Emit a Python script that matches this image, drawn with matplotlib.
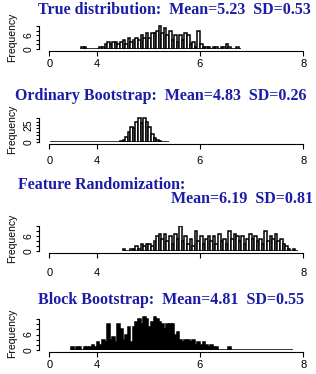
import numpy as np
import matplotlib

matplotlib.use("Agg")
import matplotlib.pyplot as plt

W, H = 316, 374
BIN_W = 0.05

# histogram counts (bins of width 0.05 starting at *_start)
true_start = 3.70
true_counts = [1, 1, 0, 0, 0, 0, 0, 1, 1, 2, 3, 2, 3, 3, 2, 3, 4, 2, 5, 3,
               4, 5, 4, 6, 5, 7, 5, 7, 7, 8, 10, 7, 9, 6, 8, 4, 6, 3, 6, 4,
               7, 6, 2, 3, 1, 8, 2, 1, 1, 1, 0, 1, 1, 0, 1, 1, 2, 1, 0, 0,
               1, 0]

ord_start = 3.10
ord_counts = [0] * 27 + [1, 3, 8, 15, 22, 20, 30, 36, 28, 35, 30, 22, 12, 6,
                         3, 1, 0, 0, 0]

feat_start = 4.50
feat_counts = [1, 0, 0, 1, 1, 2, 1, 3, 2, 3, 3, 2, 4, 6, 7, 5, 7, 4, 6, 3,
               7, 5, 10, 4, 6, 3, 5, 2, 8, 4, 6, 3, 5, 6, 4, 6, 3, 7, 4, 5,
               3, 8, 5, 7, 6, 4, 6, 3, 5, 7, 5, 6, 4, 5, 3, 8, 4, 6, 5, 7,
               4, 5, 3, 2, 1, 0, 1, 0]

block_start = 3.50
block_counts = [1, 0, 1, 1, 0, 1, 1, 1, 2, 1, 3, 2, 4, 3, 10, 4, 5, 3, 10, 8,
                4, 6, 9, 3, 9, 11, 12, 10, 13, 12, 9, 11, 13, 12, 11, 10, 8, 10, 10, 10,
                6, 7, 4, 3, 4, 4, 3, 4, 2, 3, 2, 3, 2, 1, 2, 1, 1, 0, 0, 0,
                0, 1] + [0] * 24

xticks = [3.08, 4, 6, 8]
xlabels = ["0", "4", "6", "8"]

BLUE = "#1c1ca6"

fig = plt.figure(figsize=(W / 100, H / 100), dpi=100)


def px_axes(left, top, right, bottom):
    return fig.add_axes([left / W, 1 - bottom / H, (right - left) / W, (bottom - top) / H])


def panel(top, bottom, start, counts, ymax, yticks, ylabels, fill, show6=True, labpad=2):
    ax = px_axes(40, top, 313, bottom)
    edges = start + BIN_W * np.arange(len(counts))
    ax.bar(edges, counts, width=BIN_W, align="edge", facecolor=fill,
           edgecolor="black", linewidth=1.1)
    ax.set_xlim(2.90, 8.19)
    ax.set_ylim(0, ymax)
    for s in ["top", "right"]:
        ax.spines[s].set_visible(False)
    ax.spines["bottom"].set_bounds(3.08, 8)
    ax.spines["bottom"].set_position(("outward", 1.5))
    ax.spines["left"].set_bounds(0, yticks[-1])
    ax.spines["left"].set_position(("outward", 1))
    ax.set_xticks(xticks)
    labs = list(xlabels)
    if not show6:
        labs[2] = ""
    ax.set_xticklabels(labs, fontsize=8, family="Liberation Sans")
    ax.set_yticks(yticks)
    ax.set_yticklabels(ylabels, fontsize=7.5, rotation=90, va="center",
                       family="Liberation Sans")
    ax.tick_params(axis="x", length=3.5, width=0.8, pad=labpad)
    ax.tick_params(axis="y", length=2.5, width=0.8, pad=1)
    ax.set_ylabel("Frequency", fontsize=7.5, family="Liberation Sans", labelpad=5)
    ax.patch.set_visible(False)
    return ax


title_kw = dict(fontsize=11.5, fontweight="bold", family="Liberation Serif", color=BLUE)

# panel 1: true distribution
panel(25, 49, true_start, true_counts, 10.5, [0, 2, 4, 6, 8, 10],
      ["0", "", "", "6", "", ""], "white")
fig.text(38 / W, 1 - 10 / H, "True distribution:  Mean=5.23  SD=0.53",
         va="center", ha="left", **title_kw)

# panel 2: ordinary bootstrap
panel(117, 142, ord_start, ord_counts, 37, [0, 5, 10, 15, 20, 25, 30, 35],
      ["0", "", "", "", "", "25", "", ""], "white", labpad=5)
fig.text(15 / W, 1 - 96 / H, "Ordinary Bootstrap:  Mean=4.83  SD=0.26",
         va="center", ha="left", **title_kw)

# panel 3: feature randomization
panel(226, 251, feat_start, feat_counts, 10.2, [0, 2, 4, 6, 8, 10],
      ["0", "", "", "6", "", ""], "white", show6=False, labpad=7)
fig.text(18 / W, 1 - 185 / H, "Feature Randomization:",
         va="center", ha="left", **title_kw)
fig.text(313 / W, 1 - 199 / H, "Mean=6.19  SD=0.81",
         va="center", ha="right", **title_kw)

# panel 4: block bootstrap
panel(316, 350, block_start, block_counts, 13.2, [0, 2, 4, 6, 8, 10, 12],
      ["0", "", "", "6", "", "", ""], "black")
fig.text(38 / W, 1 - 300 / H, "Block Bootstrap:  Mean=4.81  SD=0.55",
         va="center", ha="left", **title_kw)

fig.savefig("out.png", dpi=100)
